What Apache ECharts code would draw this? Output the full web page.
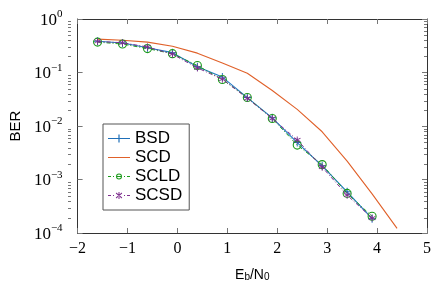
<!DOCTYPE html>
<html>
<head>
<meta charset="utf-8">
<script src="https://cdn.jsdelivr.net/npm/echarts@6/dist/echarts.min.js"></script>
<style>
  html, body { margin: 0; padding: 0; background: #fff; }
  #chart { width: 440px; height: 287px; }
</style>
</head>
<body>
<div id="chart"></div>
<script>
// Eb/N0 (dB) sample points
const ebn0 = [-1.6, -1.1, -0.6, -0.1, 0.4, 0.9, 1.4, 1.9, 2.4, 2.9, 3.4, 3.9];
const ebn0Scd = [-1.6, -1.1, -0.6, -0.1, 0.4, 0.9, 1.4, 1.9, 2.4, 2.9, 3.4, 3.9, 4.4];

// BER curves
const bsd = [0.385, 0.355, 0.29, 0.235, 0.128, 0.082, 0.034, 0.0142, 0.0049, 0.0018, 5.9e-4, 1.85e-4];
const scd = [0.42, 0.40, 0.37, 0.31, 0.23, 0.15, 0.097, 0.046, 0.0205, 0.0078, 0.0022, 5.4e-4, 1.22e-4];
const scld = [0.37, 0.34, 0.28, 0.225, 0.135, 0.074, 0.034, 0.0138, 0.0044, 0.0019, 5.5e-4, 2.05e-4];
const scsd = [0.38, 0.36, 0.30, 0.22, 0.122, 0.075, 0.033, 0.0138, 0.0055, 0.0017, 5.1e-4, 1.9e-4];

// ticks
const yMajor = [1e-4, 1e-3, 1e-2, 1e-1, 1];
const yMinor = [];
for (let e = -4; e < 0; e++) {
  for (let m = 2; m <= 9; m++) yMinor.push(m * Math.pow(10, e));
}

const SERIF = "'Liberation Serif', 'DejaVu Serif', serif";
const SANS = "'Liberation Sans', Arial, sans-serif";
const AXIS = "#333";
const TICK = "#777";
const C_BSD = "#1f6fb8";
const C_SCD = "#e0612a";
const C_SCLD = "#1c9a1c";
const C_SCSD = "#7e2f8e";

const pair = (xs, ys) => xs.map((x, i) => [x, ys[i]]);

// plot markers
const plusPath = "path://M-0.6,-5H0.6V5H-0.6Z M-5,-0.6H5V0.6H-5Z";
const starPath =
  "path://M-0.6,-5H0.6V5H-0.6Z " +
  "M-4.63,-2.02L-4.03,-3.06L4.63,2.02L4.03,3.06Z " +
  "M-4.03,3.06L-4.63,2.02L4.03,-3.06L4.63,-2.02Z";

// legend icons, drawn in a 22x12 box (M0,0 M22,12 pin the box)
const BOX = "M0,0 M22,12 ";
const iconBSD = "path://" + BOX + "M0,5.5H22V6.5H0Z M10.4,2H11.6V10H10.4Z";
const iconSCD = "path://" + BOX + "M0,5.5H22V6.5H0Z";
const dashes = "M0,5.5H3V6.5H0Z M5,5.5H6V6.5H5Z M16,5.5H17V6.5H16Z M19,5.5H22V6.5H19Z ";
const iconSCLD = "path://" + BOX + dashes +
  "M14,6A3,3 0 1 1 8,6A3,3 0 1 1 14,6Z M13,6A2,2 0 1 0 9,6A2,2 0 1 0 13,6Z M9,5.5H13V6.5H9Z";
const iconSCSD = "path://" + BOX + dashes +
  "M10.5,2.5H11.5V9.5H10.5Z M7.8,3.9L8.3,3.1L14.2,8.1L13.7,8.9Z M7.8,8.1L8.3,8.9L14.2,3.9L13.7,3.1Z";

const legendItem = (name, icon, color) => ({
  name: name,
  icon: icon,
  itemStyle: { color: color, borderWidth: 0, borderColor: "transparent" },
});

const supLabel = (v) => {
  const e = Math.round(Math.log10(v));
  return "{b|10}{s|" + (e < 0 ? "\u2212" + -e : e) + "}";
};

const grid = { left: 68, right: 13, top: 19, bottom: 53 };
const noZero = { onZero: false };

const chart = echarts.init(document.getElementById("chart"), null, { renderer: "canvas" });
chart.setOption({
  animation: false,
  backgroundColor: "#fff",
  grid: [grid, Object.assign({}, grid)],
  legend: {
    orient: "vertical",
    left: 103,
    top: 124,
    padding: [6, 7, 6, 5],
    itemWidth: 22,
    itemHeight: 12,
    itemGap: 2,
    borderColor: "#555",
    borderWidth: 1,
    backgroundColor: "#fff",
    textStyle: { fontFamily: SANS, fontSize: 17, color: "#000", lineHeight: 15 },
    data: [
      legendItem("BSD", iconBSD, C_BSD),
      legendItem("SCD", iconSCD, C_SCD),
      legendItem("SCLD", iconSCLD, C_SCLD),
      legendItem("SCSD", iconSCSD, C_SCSD),
    ],
  },
  xAxis: [
    {
      type: "value", gridIndex: 0, position: "bottom",
      min: -2, max: 5, interval: 1,
      name: "{a|E}{s|b}{a|/N}{s|0}",
      nameLocation: "middle", nameGap: 33,
      nameTextStyle: {
        rich: {
          a: { fontFamily: SANS, fontSize: 14, color: "#000", verticalAlign: "bottom", lineHeight: 16 },
          s: { fontFamily: SANS, fontSize: 10, color: "#000", verticalAlign: "bottom", lineHeight: 13 },
        },
      },
      axisLine: Object.assign({ show: true, lineStyle: { color: AXIS, width: 1 } }, noZero),
      axisTick: { inside: true, length: 5, lineStyle: { color: TICK } },
      axisLabel: {
        margin: 8,
        fontFamily: SERIF, fontSize: 16, color: "#000",
        formatter: (v) => String(v).replace("-", "\u2212"),
      },
      splitLine: { show: false },
    },
    {
      type: "value", gridIndex: 0, position: "top",
      min: -2, max: 5, interval: 1,
      axisLine: Object.assign({ show: true, lineStyle: { color: AXIS, width: 1 } }, noZero),
      axisTick: { inside: true, length: 5, lineStyle: { color: TICK } },
      axisLabel: { show: false },
      splitLine: { show: false },
    },
    {
      type: "value", gridIndex: 1, min: -2, max: 5, show: false,
      axisLine: noZero,
    },
  ],
  yAxis: [
    {
      type: "log", gridIndex: 0, position: "left", logBase: 10,
      min: 1e-4, max: 1,
      name: "BER", nameLocation: "middle", nameGap: 54, nameRotate: 90,
      nameTextStyle: { fontFamily: SANS, fontSize: 15, color: "#000" },
      axisLine: Object.assign({ show: true, lineStyle: { color: AXIS, width: 1 } }, noZero),
      axisTick: { inside: true, length: 5, customValues: yMajor, lineStyle: { color: TICK } },
      axisLabel: {
        margin: 15,
        customValues: yMajor,
        formatter: supLabel,
        rich: {
          b: { fontFamily: SERIF, fontSize: 17, color: "#000", lineHeight: 20, verticalAlign: "bottom" },
          s: { fontFamily: SERIF, fontSize: 11, color: "#000", lineHeight: 11, verticalAlign: "top" },
        },
      },
      splitLine: { show: false },
    },
    {
      type: "log", gridIndex: 0, position: "right", logBase: 10,
      min: 1e-4, max: 1,
      axisLine: Object.assign({ show: true, lineStyle: { color: AXIS, width: 1 } }, noZero),
      axisTick: { inside: true, length: 5, customValues: yMajor, lineStyle: { color: TICK } },
      axisLabel: { show: false },
      splitLine: { show: false },
    },
    {
      type: "log", gridIndex: 1, position: "left", logBase: 10,
      min: 1e-4, max: 1,
      axisLine: Object.assign({ show: false }, noZero),
      axisTick: { inside: true, length: 3, customValues: yMinor, lineStyle: { color: TICK } },
      axisLabel: { show: false },
      splitLine: { show: false },
    },
    {
      type: "log", gridIndex: 1, position: "right", logBase: 10,
      min: 1e-4, max: 1,
      axisLine: Object.assign({ show: false }, noZero),
      axisTick: { inside: true, length: 3, customValues: yMinor, lineStyle: { color: TICK } },
      axisLabel: { show: false },
      splitLine: { show: false },
    },
  ],
  series: [
    {
      name: "SCD", type: "line", xAxisIndex: 0, yAxisIndex: 0,
      data: pair(ebn0Scd, scd),
      symbol: "none",
      color: C_SCD,
      lineStyle: { width: 1.1, color: C_SCD },
      z: 2,
    },
    {
      name: "BSD", type: "line", xAxisIndex: 0, yAxisIndex: 0,
      data: pair(ebn0, bsd),
      symbol: plusPath, symbolSize: 8,
      color: C_BSD,
      itemStyle: { color: C_BSD },
      lineStyle: { width: 1.1, color: "#1f77c4" },
      z: 3,
    },
    {
      name: "SCLD", type: "line", xAxisIndex: 0, yAxisIndex: 0,
      data: pair(ebn0, scld),
      symbol: "circle", symbolSize: 8,
      color: C_SCLD,
      itemStyle: { color: "rgba(255,255,255,0)", borderColor: C_SCLD, borderWidth: 1.1 },
      lineStyle: { width: 1, color: C_SCLD, type: [4, 2, 1, 2] },
      z: 4,
    },
    {
      name: "SCSD", type: "line", xAxisIndex: 0, yAxisIndex: 0,
      data: pair(ebn0, scsd),
      symbol: starPath, symbolSize: 7,
      color: C_SCSD,
      itemStyle: { color: C_SCSD },
      lineStyle: { width: 1, color: C_SCSD, type: [4, 2, 1, 2] },
      z: 5,
    },
  ],
});
</script>
</body>
</html>
